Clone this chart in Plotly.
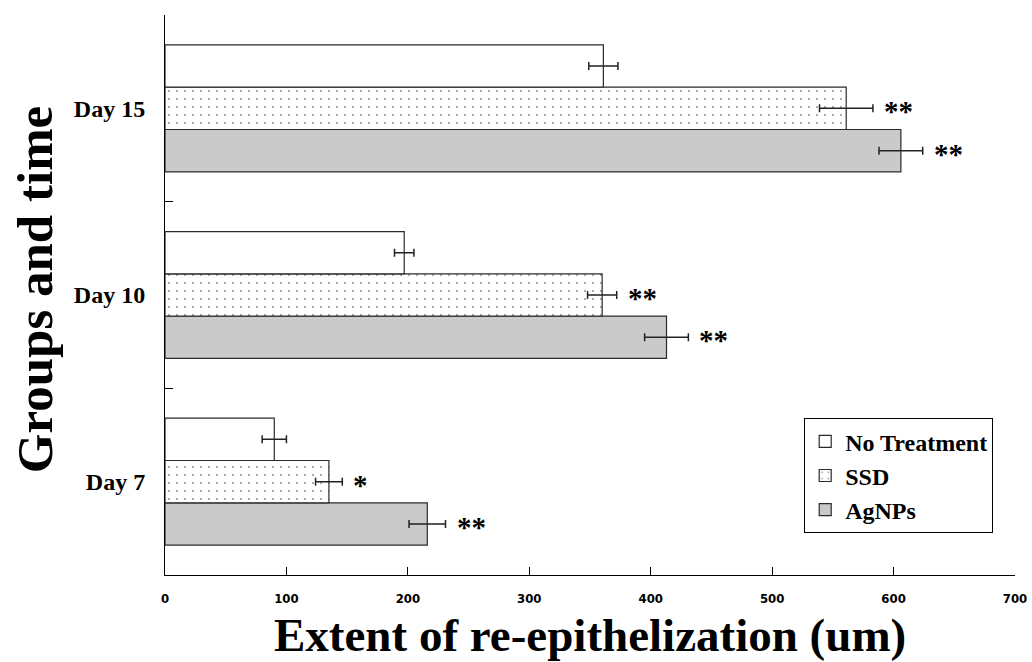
import plotly.graph_objects as go

# Healing time points (bottom to top on the category axis)
days = ["Day 7", "Day 10", "Day 15"]

# Mean extent of re-epithelization (um) and error per group
no_treatment = [90, 197, 361]
no_treatment_err = [10, 8, 12]
ssd = [135, 360, 561]
ssd_err = [11, 12, 22]
agnps = [216, 413, 606]
agnps_err = [15, 18, 18]

# Significance marks versus no treatment
ssd_sig = ["*", "**", "**"]
agnps_sig = ["**", "**", "**"]

x_ticks = [0, 100, 200, 300, 400, 500, 600, 700]

SERIF = "Liberation Serif, Times New Roman, serif"
BARGAP = 0.32
OUTLINE = dict(color="#2a2a2a", width=1.2)
ERR_STYLE = dict(type="data", color="#222222", thickness=1.5, width=4)

fig = go.Figure()

# Horizontal grouped bars: first trace sits lowest in each group
fig.add_trace(go.Bar(
    name="AgNPs", y=days, x=agnps, orientation="h",
    marker=dict(color="#cacaca", line=OUTLINE),
    error_x=dict(array=agnps_err, **ERR_STYLE),
))
fig.add_trace(go.Bar(
    name="SSD", y=days, x=ssd, orientation="h",
    marker=dict(color="white", line=OUTLINE,
                pattern=dict(shape=".", fgcolor="#333333", bgcolor="white",
                             size=8, solidity=0.06)),
    error_x=dict(array=ssd_err, **ERR_STYLE),
))
fig.add_trace(go.Bar(
    name="No Treatment", y=days, x=no_treatment, orientation="h",
    marker=dict(color="white", line=OUTLINE),
    error_x=dict(array=no_treatment_err, **ERR_STYLE),
))

# Star annotations next to the error bars
bar_w = (1 - BARGAP) / 3
annotations = []
for i in range(len(days)):
    for vals, errs, sig, off in ((ssd, ssd_err, ssd_sig, 0.0),
                                 (agnps, agnps_err, agnps_sig, -bar_w)):
        annotations.append(dict(
            x=vals[i] + errs[i], y=i + off, xref="x", yref="y",
            text=sig[i], showarrow=False, xanchor="left", yanchor="middle",
            xshift=9, yshift=-3,
            font=dict(family=SERIF, size=29, color="black", weight="bold"),
        ))

# Axis titles
annotations.append(dict(
    text="Extent of re-epithelization (um)", xref="paper", yref="paper",
    x=0.5, y=-0.1075, xanchor="center", yanchor="middle", showarrow=False,
    font=dict(family=SERIF, size=47, color="black", weight="bold"),
))
annotations.append(dict(
    text="Groups and time", xref="paper", yref="paper",
    x=-0.152, y=0.51, xanchor="center", yanchor="middle", showarrow=False,
    textangle=-90,
    font=dict(family=SERIF, size=51, color="black", weight="bold"),
))

fig.update_layout(
    width=1032, height=662,
    margin=dict(l=165, r=17, t=15, b=87, autoexpand=False),
    paper_bgcolor="white", plot_bgcolor="white",
    barmode="group", bargap=BARGAP, bargroupgap=0,
    showlegend=True,
    legend=dict(
        x=0.752, y=0.28, xanchor="left", yanchor="top",
        traceorder="reversed",
        bgcolor="white", bordercolor="black", borderwidth=1,
        font=dict(family=SERIF, size=24, color="black", weight="bold"),
        itemwidth=30, tracegroupgap=0,
    ),
    annotations=annotations,
)

fig.update_xaxes(
    range=[0, 700], tickvals=x_ticks, ticktext=[str(t) for t in x_ticks],
    showgrid=False, zeroline=False, automargin=False,
    showline=True, linecolor="black", linewidth=1,
    ticks="inside", ticklen=8, tickcolor="black",
    ticklabelstandoff=11,
    tickfont=dict(family="DejaVu Sans Condensed, Liberation Sans Narrow, sans-serif",
                  size=13, color="black", weight="bold"),
)
fig.update_yaxes(
    type="category", categoryorder="array", categoryarray=days,
    range=[-0.5, 2.5], automargin=False,
    showgrid=False, zeroline=False,
    showline=True, linecolor="black", linewidth=1,
    ticks="inside", ticklen=8, tickcolor="black", tickson="boundaries",
    ticklabelstandoff=14,
    tickfont=dict(family=SERIF, size=24, color="black", weight="bold"),
)

fig.write_html("out.html")
